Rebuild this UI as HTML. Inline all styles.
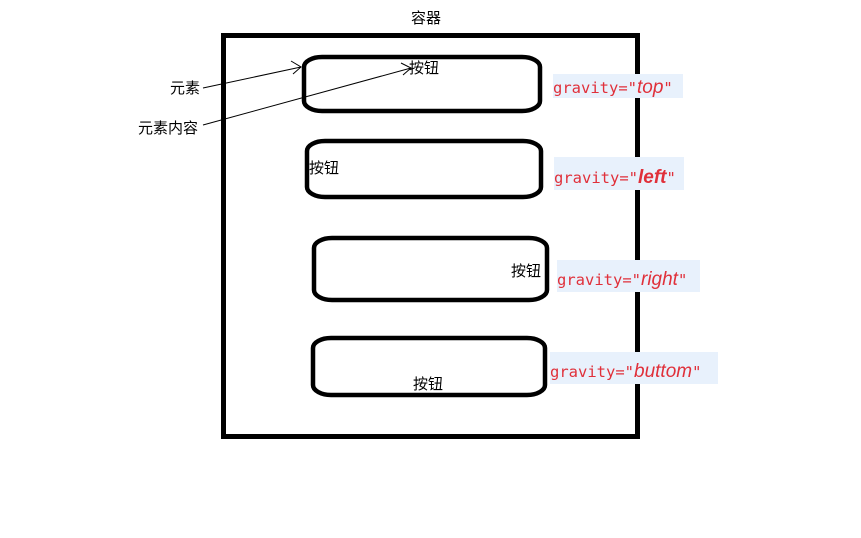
<!DOCTYPE html>
<html><head><meta charset="utf-8"><style>
html,body{margin:0;padding:0;background:#fff;}
svg{display:block;}
.cn{font-family:"Liberation Sans","Noto Sans CJK SC",sans-serif;font-size:15px;fill:#000;}
.g{font-family:"DejaVu Sans Mono","Liberation Mono",monospace;font-size:15.5px;fill:#e0303a;}
.gi{font-family:"Liberation Sans","DejaVu Sans",sans-serif;font-style:italic;font-size:19px;fill:#e0303a;}
</style></head><body>
<svg width="861" height="538" xmlns="http://www.w3.org/2000/svg">
<text x="411" y="23" class="cn">容器</text>
<rect x="223.5" y="35.5" width="414" height="401" fill="none" stroke="#000" stroke-width="5"/>
<g fill="none" stroke="#000" stroke-width="4.5">
<rect x="304" y="57" width="236" height="54" rx="18" ry="10"/>
<rect x="307" y="141" width="234" height="56" rx="18" ry="10"/>
<rect x="314" y="238" width="233" height="62" rx="18" ry="10"/>
<rect x="313" y="338" width="232" height="57" rx="18" ry="10"/>
</g>
<text x="409" y="73" class="cn">按钮</text>
<text x="309" y="173" class="cn">按钮</text>
<text x="511" y="276" class="cn">按钮</text>
<text x="413" y="389" class="cn">按钮</text>
<text x="170" y="93" class="cn">元素</text>
<text x="138" y="133" class="cn">元素内容</text>
<g stroke="#000" stroke-width="1" fill="none">
<line x1="203" y1="88" x2="301" y2="67"/>
<polyline points="291,61 301,67 293,74"/>
<line x1="203" y1="125" x2="411" y2="68"/>
<polyline points="401,63 411,68 403,75"/>
</g>
<rect x="553" y="74" width="130" height="24" fill="#e8f1fc"/>
<rect x="554" y="157" width="130" height="33" fill="#e8f1fc"/>
<rect x="557" y="260" width="143" height="32" fill="#e8f1fc"/>
<rect x="550" y="352" width="168" height="32" fill="#e8f1fc"/>

<text x="553" y="93"><tspan class="g">gravity="</tspan><tspan class="gi">top</tspan><tspan class="g">"</tspan></text>
<text x="554" y="183"><tspan class="g">gravity="</tspan><tspan class="gi" font-weight="bold">left</tspan><tspan class="g">"</tspan></text>
<text x="557" y="285"><tspan class="g">gravity="</tspan><tspan class="gi">right</tspan><tspan class="g">"</tspan></text>
<text x="550" y="377"><tspan class="g">gravity="</tspan><tspan class="gi">buttom</tspan><tspan class="g">"</tspan></text>
</svg>
</body></html>
